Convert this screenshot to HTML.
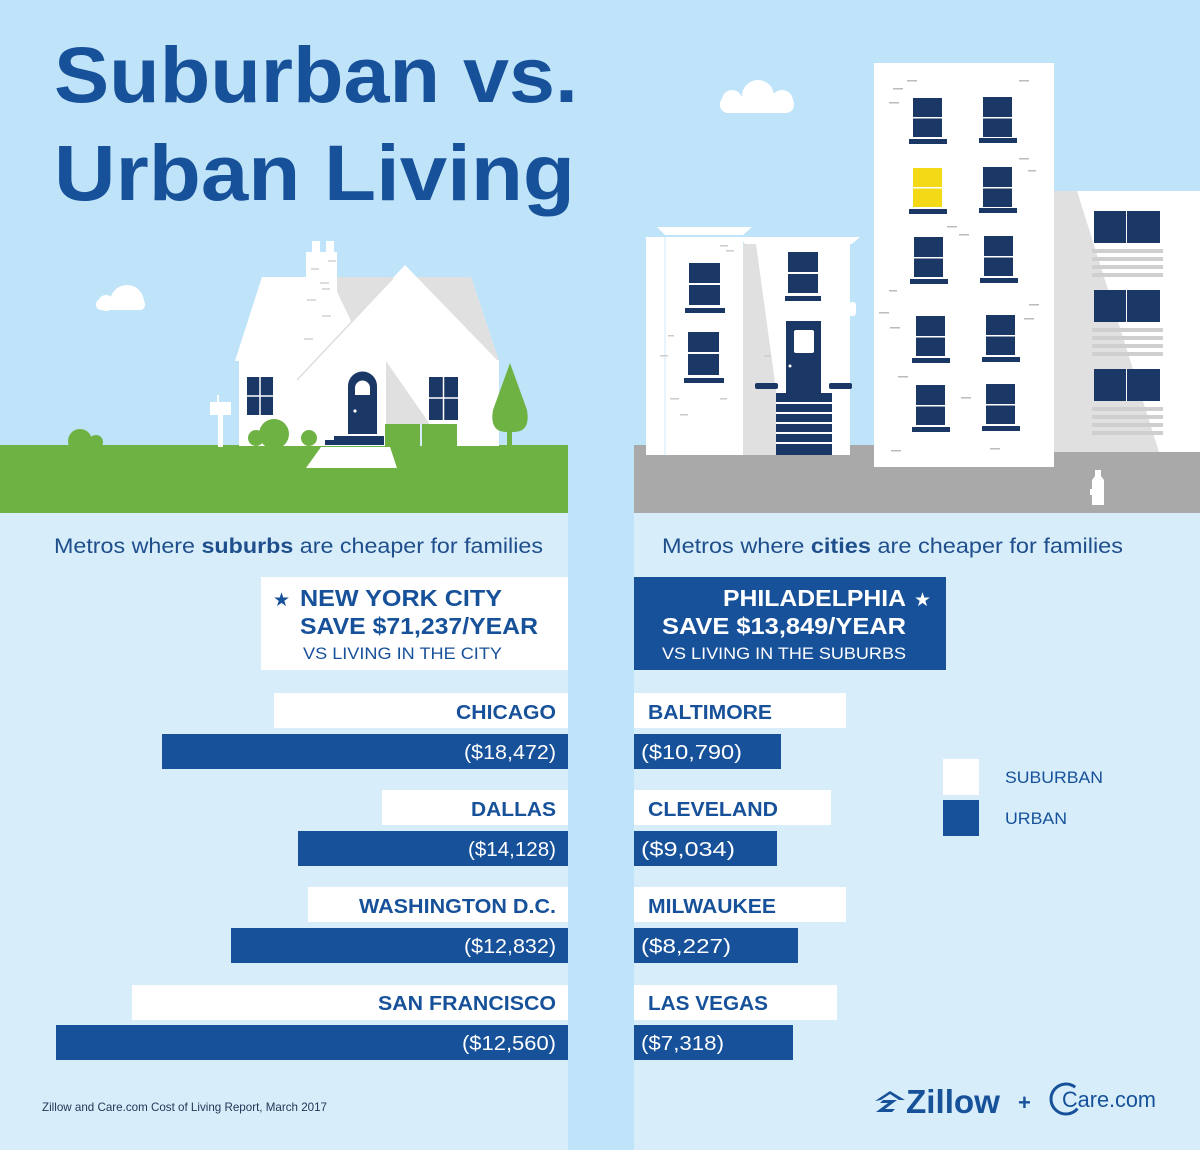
<!DOCTYPE html>
<html><head><meta charset="utf-8"><style>
html,body{margin:0;padding:0;background:#bfe3f8;}
svg{display:block;}
text{font-family:"Liberation Sans",Arial,sans-serif;}
</style></head><body>
<svg width="1200" height="1150" viewBox="0 0 1200 1150" xmlns="http://www.w3.org/2000/svg">
<rect width="1200" height="1150" fill="#bfe3f8"/>
<rect x="0" y="513" width="568" height="637" fill="#d7eefa"/>
<rect x="634" y="513" width="566" height="637" fill="#d7eefa"/>

<text x="54" y="102" font-size="79" font-weight="bold" fill="#17519a" textLength="524" lengthAdjust="spacingAndGlyphs">Suburban vs.</text>
<text x="54" y="200" font-size="79" font-weight="bold" fill="#17519a" textLength="521" lengthAdjust="spacingAndGlyphs">Urban Living</text>

<g fill="#fff">
<rect x="96" y="299" width="49" height="11" rx="5"/><circle cx="127" cy="302" r="17" clip-path="url(#c1)"/><circle cx="106" cy="303" r="8"/>
<rect x="720" y="96" width="74" height="17" rx="8"/><circle cx="758" cy="96" r="16"/><circle cx="732" cy="100" r="10"/><circle cx="782" cy="101" r="11"/>
</g>
<defs><clipPath id="c1"><rect x="90" y="270" width="60" height="40"/></clipPath></defs>

<rect x="0" y="445" width="568" height="68" fill="#6fb244"/>
<polygon points="262,277 471,277 499,361 235,361" fill="#fff"/>
<polygon points="330,277 471,277 499,361 370,361" fill="#e0e0e0"/>
<rect x="306" y="252" width="31" height="110" fill="#fff"/>
<rect x="312" y="241" width="8" height="12" fill="#fff"/><rect x="326" y="241" width="8" height="12" fill="#fff"/>
<g fill="#ddd"><rect x="328" y="260" width="8" height="2"/><rect x="311" y="268" width="8" height="2"/><rect x="320" y="282" width="9" height="2"/><rect x="322" y="288" width="8" height="2"/><rect x="307" y="299" width="9" height="2"/><rect x="322" y="315" width="9" height="2"/><rect x="304" y="338" width="9" height="2"/></g>
<rect x="239" y="360" width="260" height="86" fill="#fff"/>
<polygon points="405,265 497,360 497,446 297,446 297,380" fill="#fff"/>
<line x1="297" y1="380" x2="393" y2="278" stroke="#ddd" stroke-width="1.5"/>
<polygon points="386,361 429,423 429,446 386,446" fill="#e0e0e0"/>
<rect x="247" y="377" width="26" height="38" fill="#1b3766"/><line x1="260" y1="377" x2="260" y2="415" stroke="#fff" stroke-width="1.5"/><line x1="247" y1="396" x2="273" y2="396" stroke="#fff" stroke-width="1.5"/>
<rect x="429" y="377" width="29" height="43" fill="#1b3766"/><line x1="443.5" y1="377" x2="443.5" y2="420" stroke="#fff" stroke-width="1.5"/><line x1="429" y1="398" x2="458" y2="398" stroke="#fff" stroke-width="1.5"/>
<path d="M348,434 V386 A14.5,14.5 0 0 1 377,386 V434 Z" fill="#1b3766"/>
<path d="M355,395 V388 A7.5,7.5 0 0 1 370,388 V395 Z" fill="#fff"/>
<circle cx="355" cy="411" r="1.6" fill="#fff"/>
<rect x="334" y="436" width="50" height="4" fill="#1b3766"/><rect x="325" y="440" width="59" height="5" fill="#1b3766"/>
<rect x="385" y="424" width="72" height="22" fill="#6fb244"/><rect x="420" y="424" width="2" height="22" fill="#d7eefa"/>
<polygon points="321,447 390,447 397,468 306,468" fill="#fff"/>
<path d="M510,363 L527,410 Q531,433 512,432 L508,432 Q489,433 493,410 Z" fill="#6fb244"/>
<rect x="507" y="425" width="5" height="21" fill="#6fb244"/>
<rect x="218" y="405" width="5" height="42" fill="#fff"/><rect x="210" y="402" width="21" height="13" fill="#fff"/><rect x="217" y="395" width="2" height="7" fill="#fff"/>
<g fill="#6fb244"><circle cx="80" cy="441" r="12"/><circle cx="96" cy="442" r="7"/><circle cx="274" cy="434" r="15"/><circle cx="256" cy="438" r="8"/><circle cx="309" cy="438" r="8"/></g>

<rect x="634" y="445" width="566" height="68" fill="#a9a9a9"/>
<rect x="646" y="237" width="97" height="218" fill="#fff"/>
<polygon points="657,227 752,227 743,235 665,235" fill="#fff"/>
<rect x="745" y="237" width="105" height="218" fill="#fff"/>
<polygon points="740,237 860,237 852,244 745,244" fill="#fff"/>
<rect x="848" y="302" width="8" height="14" rx="3" fill="#fff"/>
<polygon points="743,244 756,244 785,455 743,455" fill="#e0e0e0"/>
<rect x="646" y="237" width="19" height="218" fill="#fff"/>
<line x1="665" y1="237" x2="665" y2="455" stroke="#cfe9f9" stroke-width="1"/>
<g fill="#1b3766">
<rect x="689" y="263" width="31" height="42"/><rect x="685" y="308" width="40" height="5"/>
<rect x="688" y="332" width="31" height="43"/><rect x="684" y="378" width="40" height="5"/>
<rect x="788" y="252" width="30" height="41"/><rect x="785" y="296" width="36" height="5"/>
<rect x="786" y="321" width="35" height="72"/>
<rect x="755" y="383" width="23" height="6" rx="2"/><rect x="829" y="383" width="23" height="6" rx="2"/>
<rect x="776" y="393" width="56" height="62"/>
</g>
<g fill="#fff"><rect x="689" y="283" width="31" height="2"/><rect x="688" y="352" width="31" height="2"/><rect x="788" y="272" width="30" height="2"/><rect x="794" y="330" width="20" height="23" rx="2"/><circle cx="790" cy="366" r="1.5"/>
<rect x="776" y="402" width="56" height="2"/><rect x="776" y="412" width="56" height="2"/><rect x="776" y="422" width="56" height="2"/><rect x="776" y="432" width="56" height="2"/><rect x="776" y="442" width="56" height="2"/></g>
<g fill="#ccc"><rect x="720" y="245" width="8" height="1.5"/><rect x="726" y="250" width="8" height="1.5"/><rect x="668" y="335" width="6" height="1.5"/><rect x="660" y="355" width="8" height="1.5"/><rect x="670" y="398" width="9" height="1.5"/><rect x="680" y="414" width="8" height="1.5"/><rect x="720" y="398" width="7" height="1.5"/><rect x="764" y="355" width="7" height="1.5"/></g>

<rect x="874" y="63" width="180" height="404" fill="#fff"/>
<rect x="1054" y="191" width="146" height="261" fill="#fff"/>
<polygon points="1054,191 1077,191 1159,452 1054,452" fill="#e0e0e0"/>
<g fill="#1b3766">
<rect x="913" y="98" width="29" height="39"/><rect x="909" y="139" width="38" height="5"/>
<rect x="983" y="97" width="29" height="40"/><rect x="979" y="138" width="38" height="5"/>
<rect x="909" y="209" width="38" height="5"/>
<rect x="983" y="167" width="29" height="40"/><rect x="979" y="208" width="38" height="5"/>
<rect x="914" y="237" width="29" height="40"/><rect x="910" y="279" width="38" height="5"/>
<rect x="984" y="236" width="29" height="40"/><rect x="980" y="278" width="38" height="5"/>
<rect x="916" y="316" width="29" height="40"/><rect x="912" y="358" width="38" height="5"/>
<rect x="986" y="315" width="29" height="40"/><rect x="982" y="357" width="38" height="5"/>
<rect x="916" y="385" width="29" height="40"/><rect x="912" y="427" width="38" height="5"/>
<rect x="986" y="384" width="29" height="40"/><rect x="982" y="426" width="38" height="5"/>
<rect x="1094" y="211" width="66" height="32"/><rect x="1094" y="290" width="66" height="32"/><rect x="1094" y="369" width="66" height="32"/>
</g>
<rect x="913" y="168" width="29" height="39" fill="#f4d916"/>
<g fill="#fff"><rect x="913" y="117" width="29" height="1.5"/><rect x="983" y="117" width="29" height="1.5"/><rect x="913" y="187" width="29" height="1.5"/><rect x="983" y="187" width="29" height="1.5"/><rect x="914" y="257" width="29" height="1.5"/><rect x="984" y="256" width="29" height="1.5"/><rect x="916" y="336" width="29" height="1.5"/><rect x="986" y="335" width="29" height="1.5"/><rect x="916" y="405" width="29" height="1.5"/><rect x="986" y="404" width="29" height="1.5"/>
<rect x="1126" y="211" width="1" height="32"/><rect x="1126" y="290" width="1" height="32"/><rect x="1126" y="369" width="1" height="32"/></g>
<g fill="#cfcfcf">
<rect x="1092" y="249" width="71" height="4"/><rect x="1092" y="257" width="71" height="4"/><rect x="1092" y="265" width="71" height="4"/><rect x="1092" y="273" width="71" height="4"/>
<rect x="1092" y="328" width="71" height="4"/><rect x="1092" y="336" width="71" height="4"/><rect x="1092" y="344" width="71" height="4"/><rect x="1092" y="352" width="71" height="4"/>
<rect x="1092" y="407" width="71" height="4"/><rect x="1092" y="415" width="71" height="4"/><rect x="1092" y="423" width="71" height="4"/><rect x="1092" y="431" width="71" height="4"/>
</g>
<g fill="#bbb"><rect x="907" y="80" width="10" height="1.5"/><rect x="893" y="88" width="10" height="1.5"/><rect x="889" y="102" width="10" height="1.5"/><rect x="1019" y="80" width="10" height="1.5"/><rect x="1019" y="158" width="10" height="1.5"/><rect x="1028" y="170" width="8" height="1.5"/><rect x="947" y="226" width="10" height="1.5"/><rect x="959" y="234" width="10" height="1.5"/><rect x="889" y="290" width="8" height="1.5"/><rect x="879" y="312" width="10" height="1.5"/><rect x="890" y="327" width="10" height="1.5"/><rect x="1029" y="304" width="10" height="1.5"/><rect x="1024" y="318" width="10" height="1.5"/><rect x="898" y="376" width="10" height="1.5"/><rect x="961" y="397" width="10" height="1.5"/><rect x="891" y="450" width="10" height="1.5"/><rect x="990" y="448" width="10" height="1.5"/></g>
<path d="M1095,470 h6 v6 l3,4 v25 h-12 v-10 h-2 v-6 h2 v-9 l3,-4 z" fill="#fff"/>

<text x="54" y="553" font-size="21" fill="#1f4e8c" textLength="489" lengthAdjust="spacingAndGlyphs">Metros where <tspan font-weight="bold">suburbs</tspan> are cheaper for families</text>
<text x="662" y="553" font-size="21" fill="#1f4e8c" textLength="461" lengthAdjust="spacingAndGlyphs">Metros where <tspan font-weight="bold">cities</tspan> are cheaper for families</text>

<rect x="261" y="577" width="307" height="93" fill="#fff"/>
<text x="273" y="606" font-size="19" fill="#17519a">★</text>
<text x="300" y="606" font-size="23" font-weight="bold" fill="#17519a" textLength="202" lengthAdjust="spacingAndGlyphs">NEW YORK CITY</text>
<text x="300" y="634" font-size="23" font-weight="bold" fill="#17519a" textLength="238" lengthAdjust="spacingAndGlyphs">SAVE $71,237/YEAR</text>
<text x="303" y="659" font-size="17" fill="#17519a" textLength="199" lengthAdjust="spacingAndGlyphs">VS LIVING IN THE CITY</text>
<rect x="634" y="577" width="312" height="93" fill="#17519a"/>
<text x="723" y="606" font-size="23" font-weight="bold" fill="#fff" textLength="183" lengthAdjust="spacingAndGlyphs">PHILADELPHIA</text>
<text x="914" y="606" font-size="19" fill="#fff">★</text>
<text x="662" y="634" font-size="23" font-weight="bold" fill="#fff" textLength="244" lengthAdjust="spacingAndGlyphs">SAVE $13,849/YEAR</text>
<text x="662" y="659" font-size="17" fill="#fff" textLength="244" lengthAdjust="spacingAndGlyphs">VS LIVING IN THE SUBURBS</text>

<g font-size="20">
<rect x="274" y="693" width="294" height="35" fill="#fff"/><rect x="162" y="734" width="406" height="35" fill="#17519a"/>
<text x="456" y="719" font-weight="bold" fill="#17519a" textLength="100" lengthAdjust="spacingAndGlyphs">CHICAGO</text><text x="464" y="759" fill="#fff" textLength="92" lengthAdjust="spacingAndGlyphs">($18,472)</text>
<rect x="382" y="790" width="186" height="35" fill="#fff"/><rect x="298" y="831" width="270" height="35" fill="#17519a"/>
<text x="471" y="816" font-weight="bold" fill="#17519a" textLength="85" lengthAdjust="spacingAndGlyphs">DALLAS</text><text x="468" y="856" fill="#fff" textLength="88" lengthAdjust="spacingAndGlyphs">($14,128)</text>
<rect x="308" y="887" width="260" height="35" fill="#fff"/><rect x="231" y="928" width="337" height="35" fill="#17519a"/>
<text x="359" y="913" font-weight="bold" fill="#17519a" textLength="197" lengthAdjust="spacingAndGlyphs">WASHINGTON D.C.</text><text x="464" y="953" fill="#fff" textLength="92" lengthAdjust="spacingAndGlyphs">($12,832)</text>
<rect x="132" y="985" width="436" height="35" fill="#fff"/><rect x="56" y="1025" width="512" height="35" fill="#17519a"/>
<text x="378" y="1010" font-weight="bold" fill="#17519a" textLength="178" lengthAdjust="spacingAndGlyphs">SAN FRANCISCO</text><text x="462" y="1050" fill="#fff" textLength="94" lengthAdjust="spacingAndGlyphs">($12,560)</text>
<rect x="634" y="693" width="212" height="35" fill="#fff"/><rect x="634" y="734" width="147" height="35" fill="#17519a"/>
<text x="648" y="719" font-weight="bold" fill="#17519a" textLength="124" lengthAdjust="spacingAndGlyphs">BALTIMORE</text><text x="641" y="759" fill="#fff" textLength="101" lengthAdjust="spacingAndGlyphs">($10,790)</text>
<rect x="634" y="790" width="197" height="35" fill="#fff"/><rect x="634" y="831" width="143" height="35" fill="#17519a"/>
<text x="648" y="816" font-weight="bold" fill="#17519a" textLength="130" lengthAdjust="spacingAndGlyphs">CLEVELAND</text><text x="641" y="856" fill="#fff" textLength="94" lengthAdjust="spacingAndGlyphs">($9,034)</text>
<rect x="634" y="887" width="212" height="35" fill="#fff"/><rect x="634" y="928" width="164" height="35" fill="#17519a"/>
<text x="648" y="913" font-weight="bold" fill="#17519a" textLength="128" lengthAdjust="spacingAndGlyphs">MILWAUKEE</text><text x="641" y="953" fill="#fff" textLength="90" lengthAdjust="spacingAndGlyphs">($8,227)</text>
<rect x="634" y="985" width="203" height="35" fill="#fff"/><rect x="634" y="1025" width="159" height="35" fill="#17519a"/>
<text x="648" y="1010" font-weight="bold" fill="#17519a" textLength="120" lengthAdjust="spacingAndGlyphs">LAS VEGAS</text><text x="641" y="1050" fill="#fff" textLength="83" lengthAdjust="spacingAndGlyphs">($7,318)</text>
</g>

<rect x="943" y="759" width="36" height="36" fill="#fff"/>
<rect x="943" y="800" width="36" height="36" fill="#17519a"/>
<text x="1005" y="783" font-size="17" fill="#17519a" textLength="98" lengthAdjust="spacingAndGlyphs">SUBURBAN</text>
<text x="1005" y="824" font-size="17" fill="#17519a" textLength="62" lengthAdjust="spacingAndGlyphs">URBAN</text>

<text x="42" y="1111" font-size="12" fill="#1f3555" textLength="285" lengthAdjust="spacingAndGlyphs">Zillow and Care.com Cost of Living Report, March 2017</text>
<path d="M875,1101 l15,-10 l15,9 h-6 l-9,-6 l-9,6 z M876,1112 l12,-9 h-8 l3,-3 h14 l-12,9 h10 l-3,3 z" fill="#17519a"/>
<text x="906" y="1113" font-size="33" font-weight="bold" fill="#17519a" textLength="94" lengthAdjust="spacingAndGlyphs">Zillow</text>
<text x="1018" y="1110" font-size="22" font-weight="bold" fill="#17519a">+</text>
<circle cx="1066" cy="1099" r="15" fill="none" stroke="#17519a" stroke-width="3" stroke-dasharray="70 30" transform="rotate(40 1066 1099)"/>
<text x="1062" y="1107" font-size="22" fill="#17519a" textLength="94" lengthAdjust="spacingAndGlyphs">Care.com</text>
</svg>
</body></html>
